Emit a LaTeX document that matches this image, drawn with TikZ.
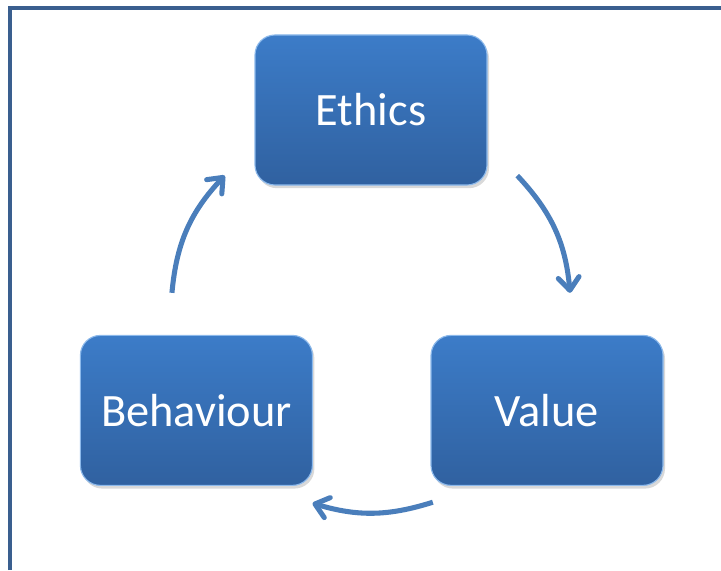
\documentclass[tikz,border=0pt]{standalone}
\usepackage{fontspec}
\setmainfont{Carlito}
\usepackage{xcolor}
\usepackage{tikz}
\usetikzlibrary{arrows.meta,shadows,calc}

\definecolor{framecol}{RGB}{58,95,143}
\definecolor{arrowcol}{RGB}{74,126,187}
\definecolor{boxtop}{RGB}{60,124,200}
\definecolor{boxbot}{RGB}{48,97,160}
\definecolor{boxrim}{RGB}{140,185,235}

\tikzset{
  stage/.style={draw=boxrim, line width=0.8pt, rounded corners=0.5cm,
    top color=boxtop, bottom color=boxbot, text=white,
    minimum width=5.8cm, minimum height=3.75cm,
    font=\fontsize{33}{40}\selectfont,
    drop shadow={opacity=0.3, shadow xshift=0.05cm, shadow yshift=-0.08cm}},
  flow/.style={draw=arrowcol, line width=3.6pt,
    -{Straight Barb[length=3.2mm,width=5.2mm,round]}}
}

\begin{document}
\begin{tikzpicture}
            \useasboundingbox (0,0) rectangle (18.025,14.25);
            \draw[framecol, line width=2.2pt] (0.25,0) -- (0.25,14.05) -- (18.025,14.05);

            \node[stage] (ethics) at (9.275,11.5) {Ethics};
            \node[stage] (value) at (13.675,3.99) {Value};
            \node[stage] (behaviour) at (4.91,3.99) {Behaviour};

            % points on the cycle circle
            \coordinate (hub) at (9.275,6.45);
            \coordinate (ev1) at ($(hub)+(43:5)$);
            \coordinate (ev2) at ($(hub)+(5.5:5)$);
            \coordinate (vb1) at ($(hub)+(-72:5)$);
            \coordinate (vb2) at ($(hub)+(-107:5)$);
            \coordinate (be1) at ($(hub)+(174.5:5)$);
            \coordinate (be2) at ($(hub)+(137:5)$);

            \draw[flow] (ev1) to[bend left=19] (ev2);
            \draw[flow] (vb1) to[bend left=17] (vb2);
            \draw[flow] (be1) to[bend left=19] (be2);
        \end{tikzpicture}
\end{document}
